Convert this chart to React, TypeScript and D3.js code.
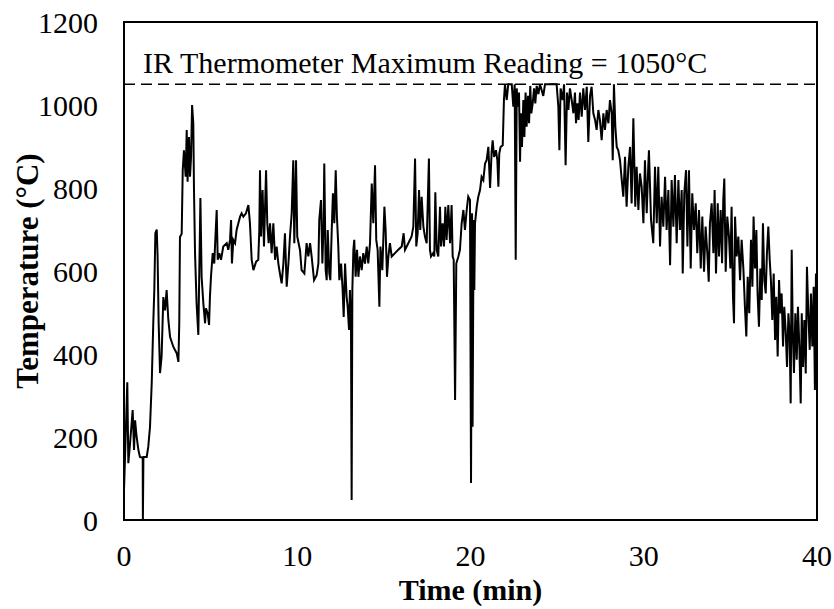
import React from "react";
import * as d3 from "d3";

// Time (min)
const timeMin: number[] = [
  0.00, 0.06, 0.19, 0.25, 0.35, 0.50, 0.58, 0.64, 0.73, 0.83, 0.92, 1.08, 1.09, 1.12, 1.31, 1.40, 1.50, 1.60, 1.69, 1.75,
  1.81, 1.89, 1.94, 2.00, 2.08, 2.17, 2.27, 2.37, 2.46, 2.56, 2.66, 2.85, 3.04, 3.14, 3.19, 3.23, 3.33, 3.39, 3.46, 3.56,
  3.62, 3.67, 3.75, 3.81, 3.87, 3.93, 4.00, 4.04, 4.10, 4.19, 4.29, 4.35, 4.41, 4.48, 4.58, 4.68, 4.73, 4.83, 4.91, 4.96,
  5.02, 5.12, 5.21, 5.27, 5.35, 5.41, 5.50, 5.60, 5.73, 5.93, 6.02, 6.12, 6.18, 6.23, 6.31, 6.41, 6.50, 6.60, 6.70, 6.79,
  6.89, 7.04, 7.18, 7.27, 7.37, 7.47, 7.62, 7.75, 7.81, 7.85, 7.91, 8.00, 8.08, 8.20, 8.27, 8.35, 8.43, 8.52, 8.62, 8.72,
  8.81, 8.91, 9.00, 9.10, 9.20, 9.29, 9.39, 9.49, 9.58, 9.68, 9.77, 9.83, 9.93, 10.00, 10.16, 10.25, 10.41, 10.54, 10.64, 10.74,
  10.83, 10.97, 11.12, 11.22, 11.27, 11.37, 11.45, 11.52, 11.56, 11.64, 11.70, 11.76, 11.85, 11.91, 11.99, 12.06, 12.14, 12.22, 12.29, 12.37,
  12.43, 12.53, 12.62, 12.68, 12.76, 12.85, 12.91, 12.99, 13.04, 13.10, 13.14, 13.18, 13.24, 13.29, 13.37, 13.45, 13.53, 13.62, 13.72, 13.81,
  13.91, 14.01, 14.10, 14.20, 14.30, 14.39, 14.49, 14.56, 14.64, 14.74, 14.80, 14.91, 15.03, 15.10, 15.18, 15.26, 15.35, 15.45, 15.64, 15.83,
  16.03, 16.14, 16.22, 16.41, 16.60, 16.70, 16.80, 16.87, 16.95, 17.03, 17.10, 17.18, 17.28, 17.37, 17.47, 17.60, 17.66, 17.72, 17.84, 17.91,
  17.97, 18.05, 18.14, 18.24, 18.30, 18.39, 18.47, 18.55, 18.62, 18.72, 18.82, 18.91, 18.97, 19.03, 19.11, 19.18, 19.30, 19.39, 19.49, 19.59,
  19.68, 19.78, 19.87, 19.97, 20.03, 20.09, 20.12, 20.18, 20.22, 20.26, 20.36, 20.45, 20.55, 20.64, 20.74, 20.84, 20.93, 21.03, 21.13, 21.22,
  21.28, 21.36, 21.47, 21.55, 21.61, 21.66, 21.74, 21.86, 21.93, 21.99, 22.09, 22.18, 22.38, 22.47, 22.55, 22.61, 22.67, 22.72, 22.80, 22.86,
  22.91, 22.97, 23.05, 23.11, 23.18, 23.24, 23.32, 23.38, 23.45, 23.51, 23.59, 23.67, 23.74, 23.82, 23.92, 24.01, 24.20, 24.30, 24.97, 25.07,
  25.13, 25.20, 25.32, 25.40, 25.49, 25.57, 25.65, 25.74, 25.84, 25.94, 26.03, 26.09, 26.17, 26.24, 26.32, 26.42, 26.51, 26.61, 26.71, 26.80,
  26.90, 26.99, 27.09, 27.19, 27.28, 27.38, 27.47, 27.57, 27.67, 27.76, 27.86, 27.96, 28.05, 28.15, 28.21, 28.28, 28.36, 28.44, 28.53, 28.63,
  28.73, 28.82, 28.92, 29.01, 29.11, 29.21, 29.30, 29.40, 29.51, 29.59, 29.69, 29.78, 29.88, 29.98, 30.07, 30.17, 30.26, 30.30, 30.42, 30.55,
  30.65, 30.75, 30.84, 30.94, 31.03, 31.13, 31.23, 31.32, 31.42, 31.52, 31.61, 31.71, 31.80, 31.90, 32.00, 32.09, 32.19, 32.25, 32.34, 32.44,
  32.52, 32.61, 32.71, 32.80, 32.90, 33.00, 33.09, 33.19, 33.29, 33.38, 33.48, 33.57, 33.67, 33.75, 33.82, 33.92, 34.02, 34.09, 34.17, 34.27,
  34.34, 34.44, 34.52, 34.59, 34.65, 34.73, 34.82, 34.92, 35.00, 35.07, 35.15, 35.21, 35.27, 35.36, 35.46, 35.56, 35.65, 35.75, 35.84, 35.92,
  36.00, 36.09, 36.19, 36.27, 36.34, 36.42, 36.50, 36.57, 36.65, 36.73, 36.81, 36.88, 36.96, 37.04, 37.11, 37.19, 37.27, 37.34, 37.42, 37.50,
  37.58, 37.65, 37.73, 37.81, 37.88, 37.96, 38.04, 38.11, 38.19, 38.27, 38.35, 38.42, 38.48, 38.54, 38.60, 38.67, 38.75, 38.83, 38.90, 38.98,
  39.06, 39.12, 39.19, 39.27, 39.35, 39.42, 39.50, 39.58, 39.65, 39.73, 39.81, 39.88, 39.94,
];

// Temperature (°C)
const tempC: number[] = [
  72, 152, 332, 137, 185, 265, 169, 240, 200, 169, 152, 150, 0, 152, 152, 176, 224, 330, 475, 554,
  691, 700, 634, 475, 354, 394, 537, 505, 554, 482, 441, 417, 402, 381, 474, 682, 690, 843, 891, 827,
  940, 815, 923, 827, 875, 1000, 956, 795, 643, 522, 446, 610, 776, 586, 522, 474, 510, 498, 470, 537,
  586, 643, 618, 675, 747, 627, 643, 627, 659, 667, 651, 675, 723, 618, 675, 667, 699, 715, 731, 739,
  731, 739, 759, 715, 627, 602, 622, 627, 699, 843, 683, 795, 659, 843, 715, 667, 715, 643, 715, 627,
  659, 618, 594, 570, 618, 691, 562, 618, 683, 739, 867, 667, 867, 683, 650, 602, 594, 667, 635, 667,
  635, 578, 590, 618, 723, 771, 618, 715, 859, 602, 578, 699, 594, 578, 699, 787, 715, 843, 731, 659,
  578, 618, 554, 489, 618, 538, 514, 458, 554, 482, 48, 554, 651, 675, 586, 651, 586, 635, 602, 643,
  618, 659, 618, 667, 811, 715, 855, 675, 651, 514, 659, 602, 755, 699, 586, 635, 667, 635, 643, 651,
  659, 691, 651, 667, 683, 707, 871, 659, 691, 795, 699, 779, 707, 683, 667, 871, 651, 635, 643, 635,
  790, 651, 635, 755, 659, 715, 659, 755, 675, 759, 667, 759, 635, 627, 289, 618, 635, 651, 715, 747,
  699, 747, 779, 771, 89, 739, 225, 723, 554, 715, 755, 779, 795, 827, 819, 859, 867, 899, 800, 887,
  915, 875, 891, 867, 803, 883, 899, 903, 1012, 1050, 1012, 1050, 1050, 996, 1050, 627, 1040, 996, 1030, 863,
  980, 899, 1012, 923, 1030, 948, 1022, 956, 1046, 980, 1004, 1040, 1004, 1046, 1026, 1050, 1022, 1050, 1050, 996,
  891, 1040, 1012, 1050, 855, 1030, 988, 1040, 1012, 980, 1030, 956, 1004, 964, 1030, 972, 1040, 988, 1044, 911,
  1022, 1044, 980, 964, 940, 988, 964, 915, 980, 940, 988, 956, 1012, 980, 867, 1050, 948, 899, 891, 867,
  819, 779, 875, 755, 851, 899, 763, 968, 755, 851, 747, 835, 803, 715, 867, 739, 851, 891, 723, 667,
  851, 715, 851, 659, 779, 707, 827, 699, 795, 614, 819, 707, 831, 667, 819, 699, 795, 594, 787, 843,
  659, 843, 606, 787, 699, 763, 643, 747, 606, 731, 598, 707, 643, 574, 715, 763, 643, 795, 594, 763,
  635, 747, 619, 771, 823, 598, 731, 683, 606, 755, 538, 474, 731, 635, 683, 578, 675, 606, 514, 442,
  586, 498, 675, 562, 731, 606, 699, 546, 466, 606, 530, 715, 578, 546, 643, 707, 627, 578, 482, 594,
  434, 538, 394, 578, 498, 546, 418, 514, 458, 369, 498, 450, 281, 651, 458, 354, 498, 386, 514, 418,
  281, 498, 369, 482, 353, 610, 498, 410, 546, 418, 562, 313, 594,
];

const xTicks: number[] = [0, 10, 20, 30, 40];
const yTicks: number[] = [0, 200, 400, 600, 800, 1000, 1200];
const maxReading = 1050;
const annotationText = "IR Thermometer Maximum Reading = 1050°C";
const xTitle = "Time (min)";
const yTitle = "Temperature (°C)";

const W = 834;
const H = 609;
const M = { left: 124, right: 17, top: 22, bottom: 89 };
const FONT = "'Liberation Serif', 'Times New Roman', Times, serif";

export default function App() {
  const x = d3.scaleLinear().domain([0, 40]).range([M.left, W - M.right]);
  const y = d3.scaleLinear().domain([0, 1200]).range([H - M.bottom, M.top]);
  const pts: [number, number][] = timeMin.map((t, i) => [t, tempC[i]]);
  const line = d3
    .line<[number, number]>()
    .x((d) => x(d[0]))
    .y((d) => y(d[1]));

  const x0 = x(0), x1 = x(40), y0 = y(0), y1 = y(1200);

  return (
    <svg
      width={W}
      height={H}
      viewBox={`0 0 ${W} ${H}`}
      style={{ position: "absolute", left: 0, top: 0, background: "#fff" }}
      fontFamily={FONT}
    >
      <rect x={0} y={0} width={W} height={H} fill="#fff" />
      <path d={line(pts) || ""} fill="none" stroke="#000" strokeWidth={2} strokeLinejoin="miter" />
      <line
        x1={x0}
        x2={x1}
        y1={y(maxReading)}
        y2={y(maxReading)}
        stroke="#000"
        strokeWidth={1.5}
        strokeDasharray="11,6"
      />
      <rect x={x0} y={y1} width={x1 - x0} height={y0 - y1} fill="none" stroke="#000" strokeWidth={2} />
      <text x={x(1.1)} y={y(1050) - 11} fontSize={30} fill="#000">
        {annotationText}
      </text>
      {yTicks.map((v) => (
        <text key={"y" + v} x={x0 - 26} y={y(v)} dy="0.35em" textAnchor="end" fontSize={30} fill="#000">
          {v}
        </text>
      ))}
      {xTicks.map((v) => (
        <text key={"x" + v} x={x(v)} y={y0 + 46} textAnchor="middle" fontSize={30} fill="#000">
          {v}
        </text>
      ))}
      <text x={(x0 + x1) / 2} y={600} textAnchor="middle" fontSize={30} fontWeight="bold" fill="#000">
        {xTitle}
      </text>
      <text
        transform={`translate(38, ${(y0 + y1) / 2}) rotate(-90)`}
        textAnchor="middle"
        fontSize={31}
        fontWeight="bold"
        fill="#000"
      >
        {yTitle}
      </text>
    </svg>
  );
}
